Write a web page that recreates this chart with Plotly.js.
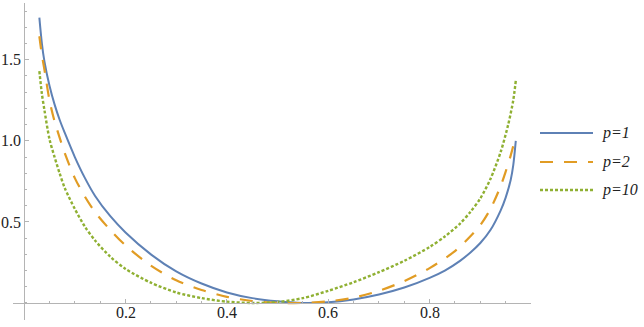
<!DOCTYPE html>
<html>
<head>
<meta charset="utf-8">
<script src="https://cdn.plot.ly/plotly-3.0.1.min.js"></script>
<style>
  html, body { margin: 0; padding: 0; background: #fff; }
  #plot { width: 644px; height: 327px; }
</style>
</head>
<body>
<div id="plot"></div>
<script>
// values
const names = ['p=1', 'p=2', 'p=10'];

const x_p1 = [0.03, 0.035, 0.04, 0.05, 0.06, 0.07, 0.08, 0.10, 0.12, 0.14, 0.17, 0.20, 0.25, 0.30, 0.35, 0.40, 0.45, 0.50, 0.55, 0.60, 0.65, 0.70, 0.75, 0.80, 0.83, 0.86, 0.88, 0.90, 0.92, 0.94, 0.95, 0.96, 0.965, 0.97];
const y_p1 = [1.76, 1.60, 1.49, 1.34, 1.225, 1.13, 1.05, 0.90, 0.77, 0.66, 0.535, 0.435, 0.30, 0.195, 0.12, 0.065, 0.03, 0.01, 0.0, 0.004, 0.022, 0.052, 0.095, 0.155, 0.20, 0.26, 0.31, 0.37, 0.45, 0.57, 0.65, 0.76, 0.85, 1.0];

const x_p2 = [0.03, 0.035, 0.04, 0.05, 0.06, 0.07, 0.08, 0.10, 0.12, 0.14, 0.17, 0.20, 0.25, 0.30, 0.35, 0.40, 0.45, 0.50, 0.55, 0.60, 0.65, 0.70, 0.75, 0.80, 0.85, 0.88, 0.90, 0.92, 0.94, 0.95, 0.96, 0.97];
const y_p2 = [1.645, 1.53, 1.44, 1.25, 1.12, 1.02, 0.925, 0.77, 0.655, 0.56, 0.45, 0.355, 0.23, 0.14, 0.08, 0.038, 0.012, 0.001, 0.0, 0.01, 0.033, 0.075, 0.135, 0.215, 0.32, 0.41, 0.48, 0.58, 0.72, 0.81, 0.91, 1.03];

const x_p10 = [0.03, 0.035, 0.04, 0.05, 0.06, 0.07, 0.08, 0.10, 0.12, 0.14, 0.17, 0.20, 0.25, 0.30, 0.35, 0.40, 0.45, 0.50, 0.55, 0.60, 0.65, 0.70, 0.75, 0.80, 0.83, 0.86, 0.88, 0.90, 0.92, 0.94, 0.955, 0.965, 0.97];
const y_p10 = [1.43, 1.29, 1.19, 1.01, 0.90, 0.80, 0.71, 0.58, 0.47, 0.385, 0.285, 0.21, 0.125, 0.065, 0.03, 0.008, 0.0, 0.006, 0.03, 0.075, 0.128, 0.19, 0.26, 0.345, 0.41, 0.49, 0.56, 0.645, 0.765, 0.93, 1.10, 1.25, 1.37];

const xTicks = [0.2, 0.4, 0.6, 0.8];
const xTickText = ['0.2', '0.4', '0.6', '0.8'];
const yTicks = [0.5, 1.0, 1.5];
const yTickText = ['0.5', '1.0', '1.5'];

const colors = ['#5e81b5', '#e19c24', '#8fb032'];
const dashes = ['solid', '13px,11px', '3px,2px'];
const widths = [2, 2.2, 2.4];

const xs = [x_p1, x_p2, x_p10];
const ys = [y_p1, y_p2, y_p10];

const axisColor = '#b4b4b4';
const serif = 'Liberation Serif';

let plot = document.getElementById('plot');

const xRange = [-0.022, 1.0];
const yRange = [-0.105, 1.85];

let traces = names.map((n, i) => ({
  x: xs[i],
  y: ys[i],
  mode: 'lines',
  name: n,
  line: { color: colors[i], width: widths[i], dash: dashes[i], shape: 'spline', smoothing: 0.8 },
  showlegend: false,
  hoverinfo: 'skip'
}));

// hand-made legend so the line samples are as long as in the picture
const W = 644 - 13 - 113, H = 327 - 3 - 7;
const px = (v) => (v - 13) / W;
const py = (v) => (320 - v) / H;
const legendRows = [133, 162, 190];

let shapes = names.map((n, i) => ({
  type: 'line', xref: 'paper', yref: 'paper',
  x0: px(540), x1: px(593), y0: py(legendRows[i]), y1: py(legendRows[i]),
  line: { color: colors[i], width: widths[i], dash: dashes[i] }
}));

let annotations = names.map((n, i) => ({
  xref: 'paper', yref: 'paper',
  x: px(600), y: py(legendRows[i]),
  xanchor: 'left', yanchor: 'middle',
  text: '<i>' + n + '</i>',
  showarrow: false,
  font: { family: serif, size: 16, color: '#222' }
}));

// x tick labels sit tight under the axis line, as in the picture
xTicks.forEach((v, i) => annotations.push({
  xref: 'x', yref: 'y', x: v, y: 0,
  xanchor: 'center', yanchor: 'top', yshift: 1,
  text: xTickText[i], showarrow: false,
  font: { family: serif, size: 16, color: '#222' }
}));

let layout = {
  width: 644,
  height: 327,
  margin: { l: 13, r: 113, t: 3, b: 7 },
  paper_bgcolor: '#fff',
  plot_bgcolor: '#fff',
  showlegend: false,
  font: { family: serif, size: 16, color: '#222' },
  xaxis: {
    range: xRange,
    anchor: 'free',
    position: (0 - yRange[0]) / (yRange[1] - yRange[0]),
    showline: true, linecolor: axisColor, linewidth: 1,
    showgrid: false, zeroline: false,
    tickmode: 'array', tickvals: xTicks, ticktext: xTickText,
    showticklabels: false,
    ticks: 'inside', ticklen: 4, tickcolor: axisColor, tickwidth: 1,
    minor: { dtick: 0.05, tick0: 0, ticks: 'inside', ticklen: 2, tickcolor: axisColor, tickwidth: 1 },
    fixedrange: true
  },
  yaxis: {
    range: yRange,
    anchor: 'free',
    position: (0 - xRange[0]) / (xRange[1] - xRange[0]),
    showline: true, linecolor: axisColor, linewidth: 1,
    showgrid: false, zeroline: false,
    tickmode: 'array', tickvals: yTicks, ticktext: yTickText,
    ticks: 'inside', ticklen: 4, tickcolor: axisColor, tickwidth: 1,
    minor: { dtick: 0.1, tick0: 0, ticks: 'inside', ticklen: 2, tickcolor: axisColor, tickwidth: 1 },
    tickfont: { family: serif, size: 16, color: '#222' },
    fixedrange: true
  },
  shapes: shapes,
  annotations: annotations
};

Plotly.newPlot(plot, traces, layout, { displayModeBar: false, staticPlot: true });
</script>
</body>
</html>
